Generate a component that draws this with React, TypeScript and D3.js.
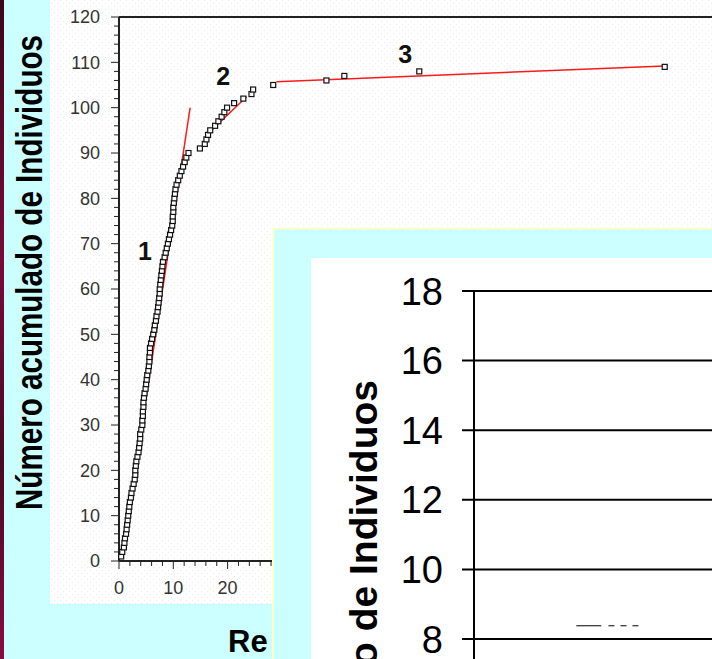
import React from "react";
import * as d3 from "d3";

// distancia de cada individuo (ordenada); el número acumulado sale de su rango
const distances = [
  0.4, 0.6, 0.9, 1.0, 1.1, 1.3, 1.4, 1.5, 1.6, 1.7,
  1.8, 1.9, 2.0, 2.2, 2.3, 2.5, 2.7, 2.9, 3.0, 3.0,
  3.1, 3.2, 3.4, 3.6, 3.7, 3.8, 3.9, 3.9, 4.1, 4.3,
  4.3, 4.4, 4.4, 4.5, 4.5, 4.6, 4.7, 4.9, 5.0, 5.1,
  5.2, 5.4, 5.5, 5.6, 5.6, 5.7, 5.7, 5.9, 6.1, 6.3,
  6.5, 6.6, 6.8, 6.9, 7.1, 7.2, 7.3, 7.4, 7.5, 7.5,
  7.6, 7.7, 7.8, 7.9, 8.0, 8.1, 8.4, 8.6, 8.8, 9.0,
  9.2, 9.4, 9.6, 9.8, 9.9, 9.9, 10.0, 10.0, 10.1, 10.2,
  10.3, 10.4, 10.6, 10.9, 11.2, 11.5, 11.8, 12.1, 12.4, 12.8,
  14.9, 15.8, 16.1, 16.4, 16.8, 17.7, 18.3, 18.9, 19.4, 19.9,
  21.2, 22.9, 24.4, 24.7,
  28.4, 38.2, 41.5, 55.3, 100.5,
];

// rectas ajustadas por tramo
const fitLines: [number, number][][] = [
  [[5.0, 36], [13.1, 100]],
  [[17.0, 95], [23.5, 102.4]],
  [[29.0, 105.7], [100.5, 109.2]],
];

const segmentNames = ["1", "2", "3"];
const segmentLabelPos: [number, number][] = [[4.8, 68.4], [19.2, 107], [52.7, 111.8]];

const yTicksMain = [0, 10, 20, 30, 40, 50, 60, 70, 80, 90, 100, 110, 120];
const xTicksMain = [0, 10, 20, 30];

// segundo gráfico (superpuesto)
const yTicks2 = [8, 10, 12, 14, 16, 18];
const series2Solid: [number, number][] = [[0.43, 8.38], [0.535, 8.38]];
const series2Dashed: [number, number][] = [[0.565, 8.38], [0.70, 8.38]];

const W = 712;
const H = 659;
const FONT = "'Liberation Sans', Arial, sans-serif";

export default function App() {
  const x = d3.scaleLinear().domain([0, 120]).range([119, 770.6]);
  const y = d3.scaleLinear().domain([0, 120]).range([561, 17]);

  const y2 = d3.scaleLinear().domain([8, 18]).range([639, 291]);
  const x2 = d3.scaleLinear().domain([0, 1]).range([474, 712]);

  const line = d3
    .line<[number, number]>()
    .x((d) => x(d[0]))
    .y((d) => y(d[1]));
  const line2 = d3
    .line<[number, number]>()
    .x((d) => x2(d[0]))
    .y((d) => y2(d[1]));

  const points = distances.map((d, i) => [d, i + 1] as [number, number]);

  const minorY = d3.range(0, 121, 2);
  const minorX = d3.range(0, 32, 2);

  return (
    <svg
      width={W}
      height={H}
      style={{ position: "absolute", left: 0, top: 0, display: "block" }}
    >
      <defs>
        <linearGradient id="strip" x1="0" y1="0" x2="0" y2="1">
          <stop offset="0" stopColor="#3d0618" />
          <stop offset="0.4" stopColor="#7a0a38" />
          <stop offset="0.7" stopColor="#4a0820" />
          <stop offset="1" stopColor="#8a0c40" />
        </linearGradient>
        <pattern id="dots" width="6" height="6" patternUnits="userSpaceOnUse">
          <rect width="6" height="6" fill="#ffffff" />
          <rect x="0" y="0" width="1" height="1" fill="#ececec" />
          <rect x="3" y="3" width="1" height="1" fill="#ececec" />
        </pattern>
      </defs>

      {/* fondo de la diapositiva */}
      <rect width={W} height={H} fill="#ccffff" />
      <rect width={4} height={H} fill="url(#strip)" />

      {/* panel del gráfico principal */}
      <rect x={50} y={0} width={W - 50} height={604} fill="url(#dots)" />

      {/* marco superior */}
      <line x1={x(0)} x2={W} y1={17} y2={17} stroke="#222" strokeWidth={2} />

      {/* eje Y */}
      <line x1={x(0)} x2={x(0)} y1={17} y2={561} stroke="#222" strokeWidth={2} />
      {minorY.map((t) => (
        <line
          key={"my" + t}
          x1={t % 10 === 0 ? x(0) - 8 : x(0) - 5}
          x2={x(0)}
          y1={y(t)}
          y2={y(t)}
          stroke="#222"
          strokeWidth={1}
        />
      ))}
      {yTicksMain.map((t) => (
        <text
          key={"ly" + t}
          x={100}
          y={y(t)}
          dy="0.36em"
          textAnchor="end"
          fontFamily={FONT}
          fontSize={18}
          fill="#333"
        >
          {t}
        </text>
      ))}

      {/* eje X */}
      <line x1={x(0)} x2={W} y1={561} y2={561} stroke="#222" strokeWidth={2} />
      {minorX.map((t) => (
        <line
          key={"mx" + t}
          x1={x(t)}
          x2={x(t)}
          y1={561}
          y2={t % 10 === 0 ? 569 : 566}
          stroke="#222"
          strokeWidth={1}
        />
      ))}
      {xTicksMain.map((t) => (
        <text
          key={"lx" + t}
          x={x(t)}
          y={594}
          textAnchor="middle"
          fontFamily={FONT}
          fontSize={18}
          fill="#333"
        >
          {t}
        </text>
      ))}

      {/* rectas ajustadas */}
      {fitLines.map((f, i) => (
        <path key={"f" + i} d={line(f) || ""} fill="none" stroke="#ff1a1a" strokeWidth={1.5} />
      ))}

      {/* puntos */}
      {points.map((p, i) => (
        <rect
          key={"p" + i}
          x={x(p[0]) - 2.5}
          y={y(p[1]) - 2.5}
          width={5}
          height={5}
          fill="#fff"
          stroke="#111"
          strokeWidth={1.2}
        />
      ))}

      {segmentNames.map((s, i) => (
        <text
          key={"s" + s}
          x={x(segmentLabelPos[i][0])}
          y={y(segmentLabelPos[i][1])}
          dy="0.36em"
          textAnchor="middle"
          fontFamily={FONT}
          fontWeight="bold"
          fontSize={25}
          fill="#111"
        >
          {s}
        </text>
      ))}

      {/* títulos */}
      <text
        transform="translate(42,510) rotate(-90)"
        textAnchor="start"
        fontFamily={FONT}
        fontWeight="bold"
        fontSize={36}
        textLength={475}
        lengthAdjust="spacingAndGlyphs"
        fill="#000"
      >
        Número acumulado de Individuos
      </text>
      <text x={228} y={652} fontFamily={FONT} fontWeight="bold" fontSize={31} fill="#000">
        Re
      </text>

      {/* diapositiva superpuesta */}
      <rect x={272} y={227.5} width={W - 272} height={H - 227.5} fill="#ffffc8" />
      <rect x={274} y={229.5} width={W - 274} height={H - 229.5} fill="#ccffff" />
      <rect x={311} y={258} width={W - 311} height={H - 258} fill="#ffffff" />

      {yTicks2.map((t) => (
        <g key={"g2" + t}>
          <line x1={462} x2={W} y1={y2(t)} y2={y2(t)} stroke="#000" strokeWidth={2} />
          <text
            x={443}
            y={y2(t)}
            dy="0.36em"
            textAnchor="end"
            fontFamily={FONT}
            fontSize={38}
            fill="#000"
          >
            {t}
          </text>
        </g>
      ))}
      <line x1={474} x2={474} y1={y2(18)} y2={H} stroke="#000" strokeWidth={2} />
      <path d={line2(series2Solid) || ""} stroke="#000" strokeWidth={1} fill="none" />
      <path
        d={line2(series2Dashed) || ""}
        stroke="#000"
        strokeWidth={1}
        fill="none"
        strokeDasharray="6,6"
      />
      <text
        transform="translate(377,380) rotate(-90)"
        textAnchor="end"
        fontFamily={FONT}
        fontWeight="bold"
        fontSize={39}
        fill="#000"
      >
        Número de Individuos
      </text>
    </svg>
  );
}
